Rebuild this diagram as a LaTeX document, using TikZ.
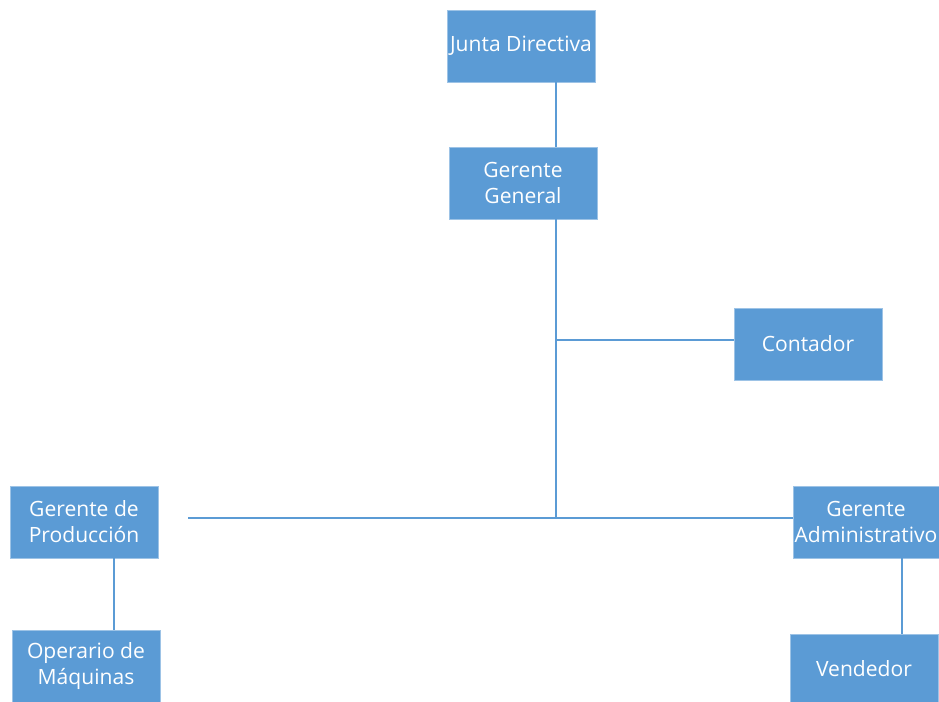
\documentclass[tikz,border=0pt]{standalone}
\usepackage{fontspec}
\setmainfont{Open Sans}
\definecolor{boxblue}{HTML}{5B9BD5}
\definecolor{edgeblue}{HTML}{9DC3E6}
\begin{document}
\begin{tikzpicture}[x=0.75pt,y=-0.75pt,
  role/.style={rectangle, fill=boxblue, draw=edgeblue, line width=0.6pt,
    minimum width=148*0.75pt, minimum height=72*0.75pt, inner sep=0pt,
    text=white, align=center, font=\fontsize{15.8}{19.5}\selectfont},
  link/.style={draw=boxblue, line width=1.1pt}]
  \useasboundingbox (0,0) rectangle (939,702);
  \begin{scope}
  \clip (0,0) rectangle (939,702);
  % org chart boxes
  \node[role] (jd) at (521,46) {Junta Directiva};
  \node[role] (gg) at (523,183) {Gerente\\General};
  \node[role] (cont) at (808,344) {Contador};
  \node[role] (gp) at (84,522) {Gerente de\\Producción};
  \node[role, minimum width=146*0.75pt] (ga) at (866,522) {Gerente\\Administrativo};
  \node[role] (om) at (86,666) {Operario de\\Máquinas};
  \node[role, minimum height=76*0.75pt] (vend) at (864,672) {};
  \node[text=white, font=\fontsize{15.8}{19.5}\selectfont] (vendtxt) at (864,669) {Vendedor};
  \end{scope}
  % helper points for the branching lines
  \coordinate (spine) at (556,518);
  \coordinate (accBranch) at (556,340);
  \coordinate (leftEnd) at (188,518);
  \coordinate (prodDrop) at (114,0);
  \coordinate (admDrop) at (902,0);
  % connectors
  \draw[link] (jd.south -| spine) -- (gg.north -| spine);
  \draw[link] (gg.south -| spine) -- (spine);
  \draw[link] (accBranch) -- (cont.west |- accBranch);
  \draw[link] (leftEnd) -- (ga.west |- spine);
  \draw[link] (gp.south -| prodDrop) -- (om.north -| prodDrop);
  \draw[link] (ga.south -| admDrop) -- (vend.north -| admDrop);
\end{tikzpicture}
\end{document}
